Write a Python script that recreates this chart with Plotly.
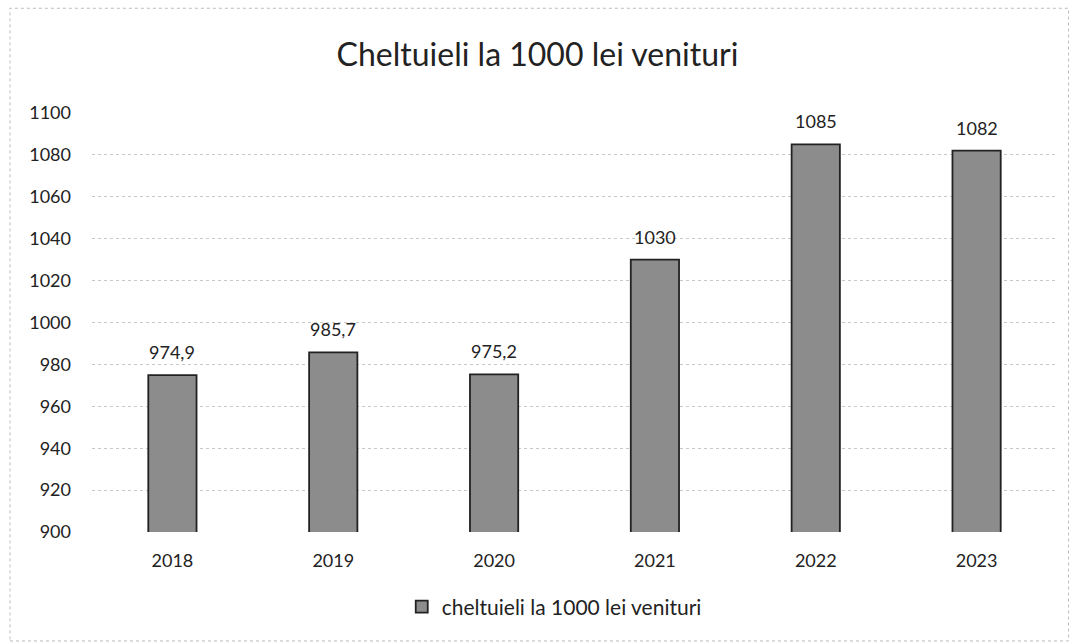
import plotly.graph_objects as go

years = ["2018", "2019", "2020", "2021", "2022", "2023"]
values = [974.9, 985.7, 975.2, 1030, 1085, 1082]
labels = ["974,9", "985,7", "975,2", "1030", "1085", "1082"]
series_name = "cheltuieli la 1000 lei venituri"
title_text = "Cheltuieli la 1000 lei venituri"

FONT = "Lato, Open Sans, sans-serif"

fig = go.Figure(
    go.Bar(
        x=years,
        y=values,
        name=series_name,
        marker=dict(color="#8c8c8c", line=dict(color="#222222", width=1.8)),
        showlegend=True,
    )
)

# value labels above bars (category axis -> annotation x uses category index)
for i, (v, lab) in enumerate(zip(values, labels)):
    fig.add_annotation(x=i, y=v, text=lab, showarrow=False, yshift=23,
                       font=dict(size=18, color="#222222", family=FONT))

fig.update_layout(
    width=1075,
    height=644,
    paper_bgcolor="white",
    plot_bgcolor="white",
    margin=dict(l=92, r=18, t=113, b=112),
    bargap=0.70,
    title=dict(text=title_text, x=0.5, xanchor="center", y=1 - 55 / 644, yanchor="middle",
               font=dict(size=32, color="#222222", family=FONT)),
    font=dict(family=FONT, color="#222222"),
    legend=dict(orientation="h", x=0.479, xanchor="center", y=-0.13, yanchor="top",
                font=dict(size=21, color="#222222")),
    shapes=[dict(type="rect", xref="paper", yref="paper", x0=-0.085, x1=1.012, y0=-0.26, y1=1.25,
                 line=dict(color="#bbbbbb", width=1, dash="dot"))],
)
fig.update_yaxes(range=[900, 1100], dtick=20, showgrid=True, gridcolor="#c8c8c8",
                 griddash="dot", gridwidth=1, zeroline=False, ticks="",
                 tickfont=dict(size=18, color="#222222"), ticklabelstandoff=20)
fig.update_xaxes(type="category", range=[-0.5, len(years) - 0.5], showgrid=False,
                 showline=False, ticks="",
                 tickfont=dict(size=18, color="#222222"), ticklabelstandoff=16)

fig.write_html("out.html", config={"displayModeBar": False},
               post_script="document.body.style.margin='0';")
